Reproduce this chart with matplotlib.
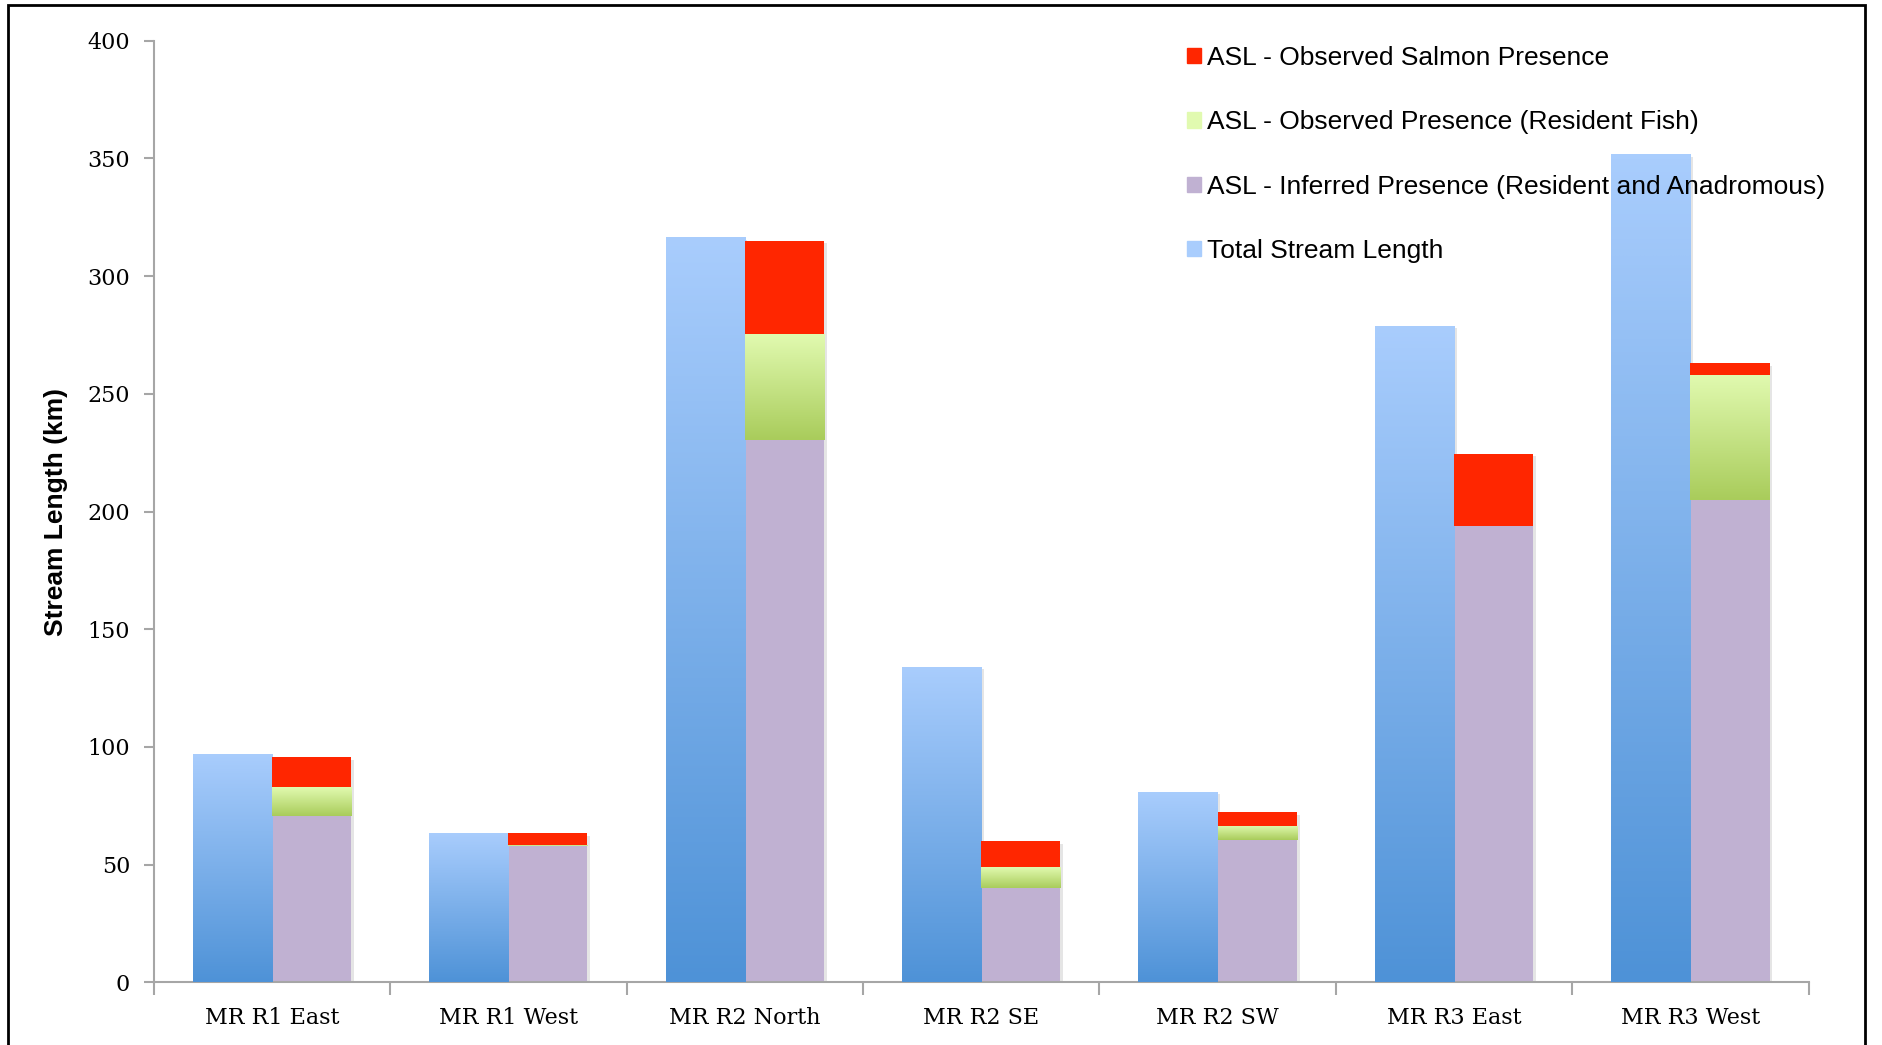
#! /usr/bin/env python3

import numpy as np
import matplotlib
matplotlib.use('Agg')
from matplotlib import pyplot as plt
from matplotlib.colors import LinearSegmentedColormap
from matplotlib.patches import Patch, Rectangle
from matplotlib import patheffects as pe

CATEGORIES = ['MR R1 East', 'MR R1 West', 'MR R2 North', 'MR R2 SE',
              'MR R2 SW', 'MR R3 East', 'MR R3 West']
TOTAL = [97.0, 63.6, 316.7, 134.1, 81.0, 279.0, 351.7]
INFERRED = [70.7, 58.0, 230.6, 40.1, 60.6, 194.0, 205.0]
RESIDENT = [12.3, 0.3, 44.9, 8.8, 6.0, 0.0, 53.1]
SALMON = [12.6, 5.0, 39.6, 11.0, 5.8, 30.6, 4.9]

LABELS = ['ASL - Observed Salmon Presence',
          'ASL - Observed Presence (Resident Fish)',
          'ASL - Inferred Presence (Resident and Anadromous)',
          'Total Stream Length']

BLUE = ('#4e92d7', '#a9cdfd')   # bottom, top
GREEN = ('#a9cc5b', '#e1fab0')
PURPLE = '#c0b1d2'
RED = '#ff2600'
WIDTH = 0.335


def gradient_fill(ax, bars, colors):
    cmap = LinearSegmentedColormap.from_list('grad', list(colors))
    grad = np.linspace(0, 1, 256).reshape(-1, 1)
    for r in bars:
        if r.get_height() <= 0:
            continue
        x, y = r.get_x(), r.get_y()
        w, h = r.get_width(), r.get_height()
        im = ax.imshow(grad, extent=[x, x + w, y, y + h], origin='lower',
                       cmap=cmap, aspect='auto', zorder=3,
                       interpolation='bilinear')
        im.set_clip_path(r)


fig = plt.figure(figsize=(18.83, 10.45), dpi=100)
ax = fig.add_axes([0.0816, 0.0599, 0.8789, 0.9011])

x = np.arange(len(CATEGORIES))
stack_top = np.array(INFERRED) + np.array(RESIDENT) + np.array(SALMON)

# faint drop shadows behind each bar
shadow = [pe.SimplePatchShadow(offset=(2, -2), alpha=0.2, rho=0.5),
          pe.Normal()]
ax.bar(x - WIDTH, TOTAL, WIDTH, align='edge', color='white', zorder=1.5,
       path_effects=shadow)
ax.bar(x, stack_top, WIDTH, align='edge', color='white', zorder=1.5,
       path_effects=shadow)

blue = ax.bar(x - WIDTH, TOTAL, WIDTH, align='edge', color=BLUE[0],
              zorder=2)
gradient_fill(ax, blue, BLUE)

ax.bar(x, INFERRED, WIDTH, align='edge', color=PURPLE, zorder=2)
green = ax.bar(x, RESIDENT, WIDTH, bottom=INFERRED, align='edge',
               color=GREEN[0], zorder=2)
gradient_fill(ax, green, GREEN)
ax.bar(x, SALMON, WIDTH, bottom=np.array(INFERRED) + np.array(RESIDENT),
       align='edge', color=RED, zorder=4)

ax.set_xlim(-0.5, len(CATEGORIES) - 0.5)
ax.set_ylim(0, 400)
ax.set_yticks(np.arange(0, 401, 50))
ax.set_xticks(x)
ax.set_xticklabels(CATEGORIES, family='DejaVu Serif', fontsize=16)
ax.set_xticks(np.arange(-0.5, len(CATEGORIES), 1), minor=True)
ax.tick_params(axis='x', which='major', length=0, pad=18)
ax.tick_params(axis='x', which='minor', length=9, width=1.5,
               color='#a6a6a6')
ax.tick_params(axis='y', length=7, width=1.5, color='#a6a6a6', pad=10)
for lab in ax.get_yticklabels():
    lab.set_family('DejaVu Serif')
    lab.set_fontsize(16)

for s in ('top', 'right'):
    ax.spines[s].set_visible(False)
for s in ('left', 'bottom'):
    ax.spines[s].set_color('#a6a6a6')
    ax.spines[s].set_linewidth(1.5)

ax.set_ylabel('Stream Length (km)', family='Liberation Sans',
              fontweight='bold', fontsize=19, labelpad=14)

handles = [Patch(color=RED), Patch(color=GREEN[1]), Patch(color=PURPLE),
           Patch(color=BLUE[1])]
ax.legend(handles, LABELS, loc='upper left', bbox_to_anchor=(0.6306, 0.956),
          bbox_transform=fig.transFigure, frameon=False,
          prop={'family': 'Liberation Sans', 'size': 19},
          handlelength=0.5, handleheight=0.5, handletextpad=0.25,
          labelspacing=1.53, borderpad=0, borderaxespad=0)

fig.patches.append(Rectangle((0.0042, -0.01), 0.9862, 1.0052,
                             transform=fig.transFigure, fill=False,
                             ec='black', lw=2))

fig.savefig('out.png', dpi=100)
